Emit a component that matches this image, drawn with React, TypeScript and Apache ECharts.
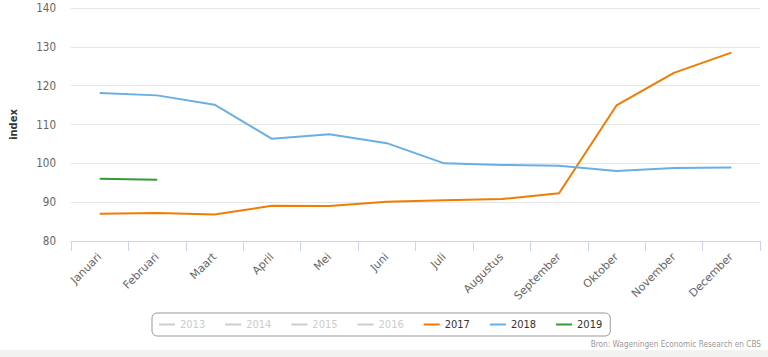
import React, { useEffect, useRef } from "react";
import * as echarts from "echarts";

const months = ["Januari", "Februari", "Maart", "April", "Mei", "Juni", "Juli", "Augustus", "September", "Oktober", "November", "December"];
const years = ["2013", "2014", "2015", "2016", "2017", "2018", "2019"];
const values2013: number[] = [];
const values2014: number[] = [];
const values2015: number[] = [];
const values2016: number[] = [];
const values2017 = [87.0, 87.2, 86.8, 89.1, 89.0, 90.1, 90.5, 90.8, 92.3, 114.9, 123.3, 128.5];
const values2018 = [118.1, 117.5, 115.1, 106.3, 107.5, 105.2, 100.0, 99.6, 99.4, 98.0, 98.8, 98.9];
const values2019 = [96.0, 95.8];
const yTicks = { min: 80, max: 140, interval: 10 };
const yTitle = "index";
const credits = "Bron: Wageningen Economic Research en CBS";

const FONT = "'DejaVu Sans Condensed', 'DejaVu Sans', sans-serif";
const FONT_WIDE = "'DejaVu Sans', sans-serif";
const colors: Record<string, string> = {
  "2013": "#cccccc",
  "2014": "#cccccc",
  "2015": "#cccccc",
  "2016": "#cccccc",
  "2017": "#F07C00",
  "2018": "#6AAEE2",
  "2019": "#349A34",
};

export default function App() {
  const ref = useRef<HTMLDivElement>(null);
  useEffect(() => {
    if (!ref.current) return;
    const chart = echarts.init(ref.current, undefined, { renderer: "svg" });
    const dataByYear: Record<string, number[]> = {
      "2013": values2013,
      "2014": values2014,
      "2015": values2015,
      "2016": values2016,
      "2017": values2017,
      "2018": values2018,
      "2019": values2019,
    };
    const selected: Record<string, boolean> = {};
    years.forEach((y) => (selected[y] = Number(y) >= 2017));
    chart.setOption({
      animation: false,
      backgroundColor: "#ffffff",
      grid: { left: 69, right: 8, top: 8, bottom: 116, containLabel: false },
      xAxis: {
        type: "category",
        data: months,
        boundaryGap: true,
        axisLine: { lineStyle: { color: "#ccd6eb", width: 1 } },
        axisTick: { show: true, length: 10, lineStyle: { color: "#ccd6eb" } },
        axisLabel: {
          rotate: 45,
          margin: 14,
          color: "#666666",
          fontFamily: FONT_WIDE,
          fontSize: 11,
          interval: 0,
        },
        splitLine: { show: false },
      },
      yAxis: {
        type: "value",
        min: yTicks.min,
        max: yTicks.max,
        interval: yTicks.interval,
        name: yTitle,
        nameLocation: "middle",
        nameGap: 52,
        nameTextStyle: { color: "#333333", fontFamily: FONT, fontSize: 11, fontWeight: "bold" },
        axisLine: { show: false },
        axisTick: { show: false },
        axisLabel: { color: "#666666", fontFamily: FONT, fontSize: 11.5, margin: 15 },
        splitLine: { lineStyle: { color: "#e6e6e6", width: 1 } },
      },
      legend: {
        data: years,
        selected,
        left: 152,
        top: 313,
        padding: [6, 8, 6, 7],
        itemGap: 20,
        itemWidth: 16,
        itemHeight: 2,
        icon: "rect",
        borderColor: "#999999",
        borderWidth: 1,
        borderRadius: 5,
        inactiveColor: "#cccccc",
        selectedMode: false,
        textStyle: { color: "#333333", fontFamily: FONT, fontSize: 11 },
      },
      series: years.map((y) => ({
        name: y,
        type: "line",
        data: dataByYear[y],
        showSymbol: false,
        symbol: "none",
        color: colors[y],
        lineStyle: { width: 2, color: colors[y] },
        itemStyle: { color: colors[y] },
        emphasis: { disabled: true },
      })),
      graphic: [
        {
          type: "rect",
          shape: { x: 0, y: 350, width: 768, height: 7 },
          style: { fill: "#f2f2f0" },
          silent: true,
        },
        {
          type: "text",
          right: 7,
          top: 340,
          style: { text: credits, fill: "#999999", font: `8.2px ${FONT}` },
          silent: true,
        },
      ],
    });
    return () => chart.dispose();
  }, []);
  return (
    <div
      ref={ref}
      style={{ position: "fixed", left: 0, top: 0, width: 768, height: 357, background: "#fff" }}
    />
  );
}
